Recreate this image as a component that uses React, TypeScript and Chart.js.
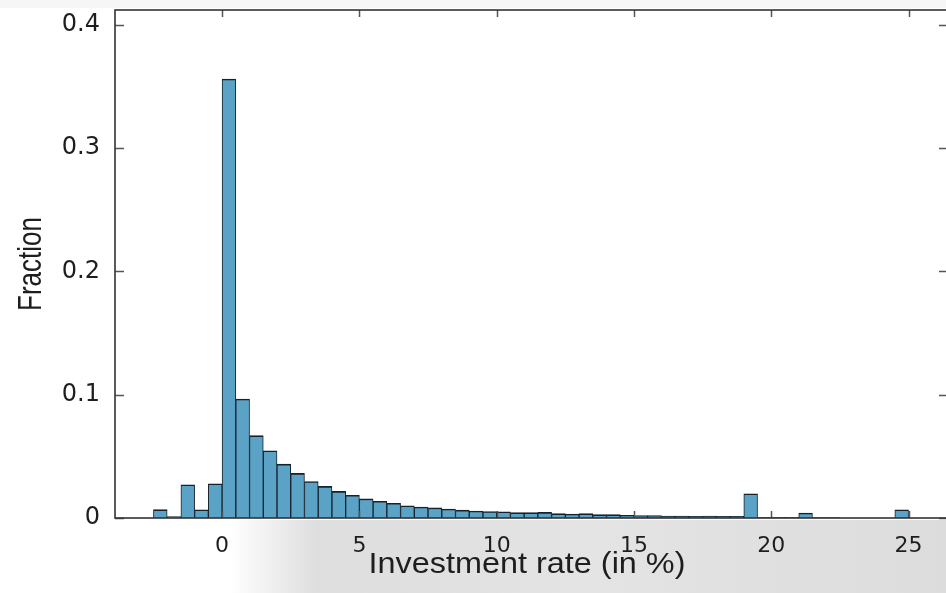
import React, { useEffect, useRef } from "react";
import { Chart, registerables } from "chart.js";

Chart.register(...registerables);

// Histogram bins (left edge, in %), width 0.5
const binLeft: number[] = [
  -2.5, -2.0, -1.5, -1.0, -0.5, 0.0, 0.5, 1.0, 1.5, 2.0, 2.5, 3.0, 3.5, 4.0, 4.5,
  5.0, 5.5, 6.0, 6.5, 7.0, 7.5, 8.0, 8.5, 9.0, 9.5, 10.0, 10.5, 11.0, 11.5, 12.0,
  12.5, 13.0, 13.5, 14.0, 14.5, 15.0, 15.5, 16.0, 16.5, 17.0, 17.5, 18.0, 18.5,
  19.0, 19.5, 20.0, 20.5, 21.0, 21.5, 22.0, 22.5, 23.0, 23.5, 24.0, 24.5,
];
const binWidth = 0.5;
const fractions: number[] = [
  0.0068, 0.0012, 0.027, 0.0067, 0.0278, 0.356, 0.0965, 0.0668, 0.0545, 0.0437,
  0.0362, 0.0296, 0.0256, 0.0216, 0.0184, 0.0155, 0.0135, 0.0119, 0.0099, 0.0089,
  0.0082, 0.0073, 0.0064, 0.0056, 0.0053, 0.005, 0.0043, 0.0043, 0.0045, 0.0035,
  0.0032, 0.0035, 0.0027, 0.0027, 0.0022, 0.0019, 0.0019, 0.0016, 0.0016, 0.0013,
  0.0016, 0.0013, 0.0013, 0.0197, 0.0005, 0.0005, 0.0005, 0.004, 0.0003, 0.0003,
  0, 0, 0, 0, 0.0067,
];
const xTicks: number[] = [0, 5, 10, 15, 20, 25];
const yTicks: number[] = [0, 0.1, 0.2, 0.3, 0.4];
const xTitle = "Investment rate (in %)";
const yTitle = "Fraction";

const framePlugin = {
  id: "framePlugin",
  beforeDraw(chart: any) {
    const ctx = chart.ctx;
    const W = chart.width;
    const H = chart.height;
    ctx.save();
    ctx.fillStyle = "#ffffff";
    ctx.fillRect(0, 0, W, H);
    ctx.fillStyle = "#f6f6f6";
    ctx.fillRect(0, 0, W, 8);
    const g = ctx.createLinearGradient(230, 0, W, 0);
    g.addColorStop(0, "rgba(222,222,222,0)");
    g.addColorStop(0.12, "rgba(222,222,222,1)");
    g.addColorStop(0.5, "rgba(228,228,228,1)");
    g.addColorStop(1, "rgba(220,220,220,1)");
    ctx.fillStyle = g;
    ctx.fillRect(230, chart.chartArea.bottom + 2, W - 230, H);
    ctx.restore();
  },
  afterDatasetsDraw(chart: any) {
    const ctx = chart.ctx;
    const { left, right, top, bottom } = chart.chartArea;
    const xs = chart.scales.x;
    const ys = chart.scales.y;
    ctx.save();
    ctx.strokeStyle = "#555555";
    ctx.lineWidth = 1.5;
    ctx.beginPath();
    xTicks.forEach((v) => {
      const px = Math.round(xs.getPixelForValue(v)) + 0.5;
      ctx.moveTo(px, bottom);
      ctx.lineTo(px, bottom - 7);
      ctx.moveTo(px, top);
      ctx.lineTo(px, top + 7);
    });
    yTicks.forEach((v) => {
      const py = Math.round(ys.getPixelForValue(v)) + 0.5;
      ctx.moveTo(left, py);
      ctx.lineTo(left + 9, py);
      ctx.moveTo(right, py);
      ctx.lineTo(right - 8, py);
    });
    ctx.stroke();
    ctx.strokeStyle = "#333333";
    ctx.lineWidth = 1.6;
    ctx.strokeRect(left, top, right - left, bottom - top);
    ctx.restore();
  },
  afterDraw(chart: any) {
    const ctx = chart.ctx;
    const { top, bottom } = chart.chartArea;
    ctx.save();
    ctx.fillStyle = "#1e1e1e";
    ctx.font = "30px 'Liberation Sans', Arial, sans-serif";
    ctx.textAlign = "center";
    ctx.textBaseline = "alphabetic";
    ctx.translate(527, 573);
    ctx.scale(1.08, 1);
    ctx.fillText(xTitle, 0, 0);
    ctx.restore();
    ctx.save();
    ctx.fillStyle = "#1e1e1e";
    ctx.font = "26px 'Liberation Sans', Arial, sans-serif";
    ctx.textAlign = "center";
    ctx.textBaseline = "alphabetic";
    ctx.translate(41, (top + bottom) / 2);
    ctx.rotate(-Math.PI / 2);
    ctx.scale(1, 1.3);
    ctx.fillText(yTitle, 0, 0);
    ctx.restore();
  },
};

export default function App() {
  const ref = useRef<HTMLCanvasElement | null>(null);
  useEffect(() => {
    document.body.style.margin = "0";
    const canvas = ref.current;
    if (!canvas) return;
    const data = binLeft.map((l, i) => ({ x: l + binWidth / 2, y: fractions[i] }));
    const chart = new Chart(canvas, {
      type: "bar",
      data: {
        datasets: [
          {
            data: data as any,
            backgroundColor: "#5aa3c6",
            borderColor: "#16222b",
            borderWidth: { top: 1.6, left: 1, right: 1, bottom: 0 } as any,
            borderSkipped: "start",
            barPercentage: 1,
            categoryPercentage: 1,
          },
        ],
      },
      options: {
        animation: false,
        responsive: false,
        devicePixelRatio: 1,
        layout: { padding: { left: 0, top: 10, right: 3, bottom: 0 } },
        plugins: {
          legend: { display: false },
          tooltip: { enabled: false },
          title: { display: false },
        },
        scales: {
          x: {
            type: "linear",
            min: -3.9,
            max: 26.4,
            offset: false,
            grid: { display: false, drawTicks: false },
            border: { display: false },
            afterFit: (s: any) => {
              s.height = 75;
              s.paddingLeft = 0;
              s.paddingRight = 0;
              s.paddingTop = 0;
              s.paddingBottom = 0;
            },
            afterBuildTicks: (s: any) => {
              s.ticks = xTicks.map((v) => ({ value: v }));
            },
            ticks: {
              padding: 15,
              color: "#1e1e1e",
              font: { family: "'DejaVu Sans'", size: 22 },
              maxRotation: 0,
              callback: (v: any) => String(v),
            },
          },
          y: {
            type: "linear",
            min: 0,
            max: 0.412,
            grid: { display: false, drawTicks: false },
            border: { display: false },
            afterFit: (s: any) => {
              s.width = 115;
              s.paddingLeft = 0;
              s.paddingRight = 0;
              s.paddingTop = 0;
              s.paddingBottom = 0;
            },
            afterBuildTicks: (s: any) => {
              s.ticks = yTicks.map((v) => ({ value: v }));
            },
            ticks: {
              padding: 15,
              color: "#1e1e1e",
              font: { family: "'DejaVu Sans'", size: 24 },
              callback: (v: any) => (Number(v) === 0 ? "0" : Number(v).toFixed(1)),
            },
          },
        },
      },
      plugins: [framePlugin],
    });
    return () => chart.destroy();
  }, []);
  return (
    <div
      style={{
        position: "fixed",
        left: 0,
        top: 0,
        width: 946,
        height: 593,
        overflow: "hidden",
        background: "#fff",
      }}
    >
      <canvas ref={ref} width={950} height={593} style={{ display: "block", width: 950, height: 593 }} />
    </div>
  );
}
